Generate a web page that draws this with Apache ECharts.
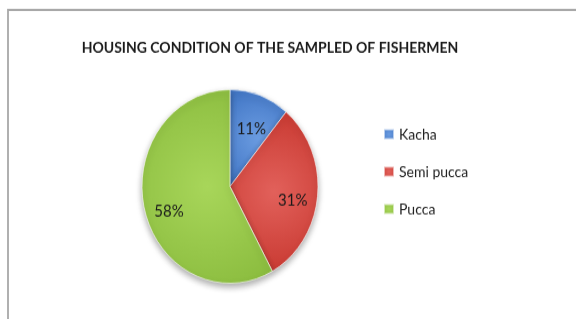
<!DOCTYPE html>
<html>
<head>
<meta charset="utf-8">
<script src="https://cdn.jsdelivr.net/npm/echarts@6/dist/echarts.min.js"></script>
<style>
  html, body { margin: 0; padding: 0; background: #fff; width: 576px; height: 319px; }
  /* the original picture is stretched vertically, so the chart is too */
  #chart { width: 576px; height: 290px; transform: scaleY(1.1); transform-origin: 0 0; }
</style>
</head>
<body>
<div id="chart"></div>
<script>
// housing condition shares (%)
var categories = ['Kacha', 'Semi pucca', 'Pucca']
var shares = [11, 31, 58]
var sliceColors = [
  ['#6a9be0', '#3f74c4'],
  ['#e2615b', '#c7372f'],
  ['#a8d65a', '#86b83a']
]

var pieData = []
var labelData = []
for (var i = 0; i < categories.length; i++) {
  pieData.push({
    name: categories[i],
    value: shares[i],
    itemStyle: {
      color: new echarts.graphic.RadialGradient(0.5, 0.5, 0.9, [
        { offset: 0, color: sliceColors[i][0] },
        { offset: 1, color: sliceColors[i][1] }
      ])
    }
  })
  labelData.push({ name: categories[i], value: shares[i] })
}

var myChart = echarts.init(document.getElementById('chart'))
var option = {
  animation: false,
  title: {
    text: 'HOUSING CONDITION OF THE SAMPLED OF FISHERMEN',
    left: 265,
    top: 31,
    textAlign: 'center',
    textStyle: {
      fontFamily: 'Lato',
      fontSize: 14,
      fontWeight: 'bold',
      color: '#1a1a1a'
    }
  },
  legend: {
    orient: 'vertical',
    left: 378,
    top: 110,
    itemGap: 20,
    itemWidth: 10,
    itemHeight: 9,
    icon: 'rect',
    textStyle: {
      fontFamily: 'Lato',
      fontSize: 14,
      color: '#222'
    },
    data: categories
  },
  graphic: [
    {
      type: 'polyline',
      shape: { points: [[8, 290], [8, 9], [576, 9]] },
      style: { stroke: '#a8a8a8', lineWidth: 1.8, fill: null }
    }
  ],
  series: [
    {
      type: 'pie',
      center: [230, 169.5],
      radius: 88,
      startAngle: 90,
      clockwise: true,
      label: { show: false },
      labelLine: { show: false },
      itemStyle: {
        borderColor: 'rgba(255,255,255,0.6)',
        borderWidth: 1,
        shadowBlur: 6,
        shadowOffsetY: 3,
        shadowColor: 'rgba(0,0,0,0.35)'
      },
      emphasis: { disabled: true },
      data: pieData
    },
    {
      // transparent ring, only used to place the percentage labels further out
      type: 'pie',
      center: [230, 169.5],
      radius: [32, 88],
      startAngle: 90,
      clockwise: true,
      silent: true,
      itemStyle: { color: 'rgba(0,0,0,0)' },
      label: {
        position: 'inner',
        formatter: '{d}%',
        fontFamily: 'Lato',
        fontSize: 15,
        color: '#1a1a1a',
        offset: [0, 7]
      },
      labelLine: { show: false },
      emphasis: { disabled: true },
      data: labelData
    }
  ]
}
myChart.setOption(option)
</script>
</body>
</html>
